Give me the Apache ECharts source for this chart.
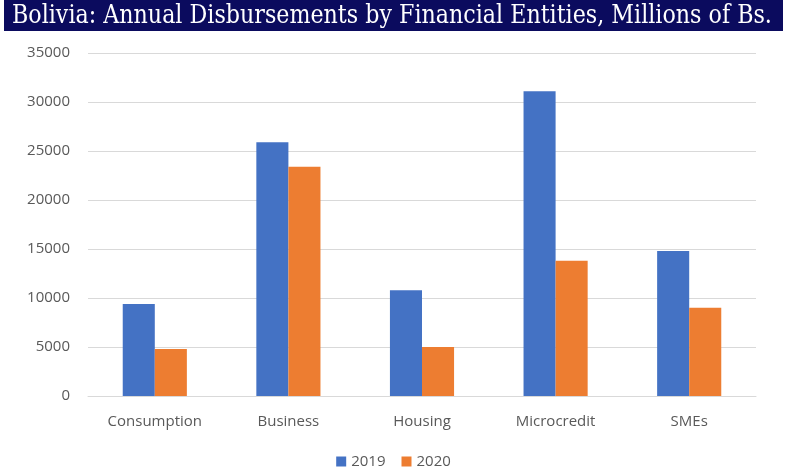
<!DOCTYPE html>
<html>
<head>
<meta charset="utf-8">
<script src="https://cdn.jsdelivr.net/npm/echarts@6/dist/echarts.min.js"></script>
<style>
  html, body { margin: 0; padding: 0; background: #fff; }
  #chart { width: 787px; height: 474px; }
</style>
</head>
<body>
<div id="chart"></div>
<script>
// data
const categories = ['Consumption', 'Business', 'Housing', 'Microcredit', 'SMEs'];
const values2019 = [9400, 25900, 10800, 31100, 14800];
const values2020 = [4800, 23400, 5000, 13800, 9000];

const titleText = 'Bolivia: Annual Disbursements by Financial Entities, Millions of Bs.';
const titleFamily = '"DejaVu Serif", serif';

// fit the title into the dark band (about 763px wide)
const ctx = document.createElement('canvas').getContext('2d');
ctx.font = '20px ' + titleFamily;
const titleSize = Math.floor(20 * 763 / ctx.measureText(titleText).width * 10) / 10;

const chart = echarts.init(document.getElementById('chart'));
const option = {
  animation: false,
  graphic: [
    {
      type: 'rect',
      shape: { x: 4, y: 0, width: 779, height: 31 },
      style: { fill: '#0b0b5e' }
    },
    {
      type: 'text',
      x: 12,
      y: 16,
      scaleY: 1.15,
      style: {
        text: titleText,
        fill: '#ffffff',
        font: titleSize + 'px ' + titleFamily,
        verticalAlign: 'middle'
      }
    }
  ],
  legend: {
    bottom: 0,
    left: 'center',
    itemWidth: 10,
    itemHeight: 10,
    itemGap: 16,
    icon: 'rect',
    textStyle: { color: '#595959', fontSize: 15, fontFamily: 'Open Sans' },
    data: ['2019', '2020']
  },
  grid: { left: 88, right: 31, top: 53, bottom: 78 },
  xAxis: {
    type: 'category',
    data: categories,
    axisLine: { lineStyle: { color: '#d9d9d9' } },
    axisTick: { show: false },
    axisLabel: { color: '#595959', fontSize: 15, fontFamily: 'Open Sans', margin: 18 }
  },
  yAxis: {
    type: 'value',
    min: 0,
    max: 35000,
    interval: 5000,
    axisLine: { show: false },
    axisTick: { show: false },
    splitLine: { lineStyle: { color: '#d9d9d9' } },
    axisLabel: {
      color: '#595959', fontSize: 15, fontFamily: 'Open Sans', margin: 18,
      formatter: v => String(v)
    }
  },
  series: [
    {
      name: '2019',
      type: 'bar',
      data: values2019,
      itemStyle: { color: '#4472c4' },
      barGap: '0%',
      barCategoryGap: '52%'
    },
    {
      name: '2020',
      type: 'bar',
      data: values2020,
      itemStyle: { color: '#ed7d31' }
    }
  ]
};
chart.setOption(option);
</script>
</body>
</html>
